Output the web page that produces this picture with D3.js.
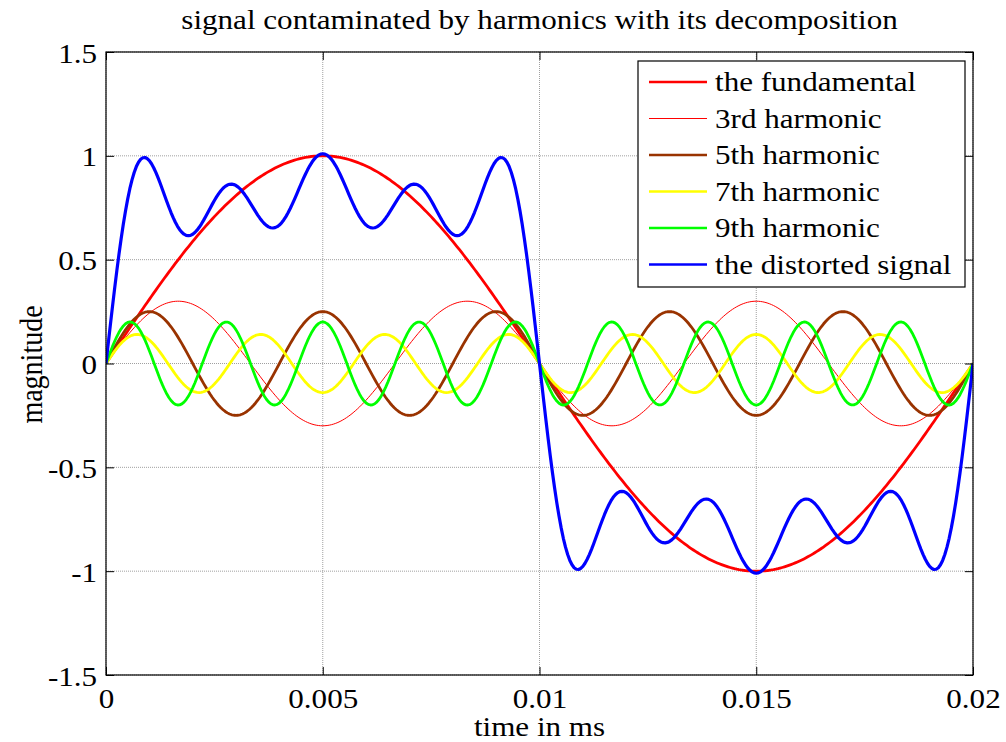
<!DOCTYPE html>
<html>
<head>
<meta charset="utf-8">
<script src="https://cdn.jsdelivr.net/npm/d3@7"></script>
<style>
  html, body { margin: 0; padding: 0; background: #fff; }
  svg { display: block; font-family: "Liberation Serif", "Times New Roman", serif; }
</style>
</head>
<body>
<svg id="chart" width="1006" height="742"></svg>
<script>
// ---- data ----
const seriesLabels = ["the fundamental", "3rd harmonic", "5th harmonic", "7th harmonic", "9th harmonic", "the distorted signal"];
const harmonicOrders = [1, 3, 5, 7, 9];
const harmonicAmplitudes = [1.0, 0.3, 0.25, 0.14, 0.2];
const fundamentalPeriod = 0.02; // seconds (x axis spans one period)
const xTicks = [0, 0.005, 0.01, 0.015, 0.02];
const xTickLabels = ["0", "0.005", "0.01", "0.015", "0.02"];
const yTicks = [-1.5, -1, -0.5, 0, 0.5, 1, 1.5];
const yTickLabels = ["-1.5", "-1", "-0.5", "0", "0.5", "1", "1.5"];
const titleText = "signal contaminated by harmonics with its decomposition";
const xLabelText = "time in ms";
const yLabelText = "magnitude";

// ---- styles ----
const colors = ["#ff0000", "#ff0000", "#993300", "#ffff00", "#00ff00", "#0000ff"];
const widths = [2.8, 1, 2.8, 2.8, 2.8, 3.2];
const FS = 28;          // font size
const SX = 1.11;        // horizontal stretch of the reference text

const svg = d3.select("#chart");
const L = 106, R = 973, T = 52, B = 675;

const x = d3.scaleLinear().domain([0, 0.02]).range([L, R]);
const y = d3.scaleLinear().domain([-1.5, 1.5]).range([B, T]);

// sample times
const nSamples = 400;
const times = d3.range(nSamples + 1).map(i => i * fundamentalPeriod / nSamples);

const series = harmonicOrders.map((h, k) =>
  times.map(t => [t, harmonicAmplitudes[k] * Math.sin(2 * Math.PI * h * t / fundamentalPeriod)]));
const distorted = times.map((t, i) => [t, d3.sum(series, s => s[i][1])]);
const allSeries = series.concat([distorted]);

// grid
const grid = svg.append("g");
grid.selectAll("line.gx").data(xTicks).join("line")
  .attr("x1", d => x(d)).attr("x2", d => x(d)).attr("y1", T).attr("y2", B)
  .attr("stroke", "#a0a0a0").attr("stroke-width", 1).attr("stroke-dasharray", "1,1");
grid.selectAll("line.gy").data(yTicks).join("line")
  .attr("y1", d => y(d)).attr("y2", d => y(d)).attr("x1", L).attr("x2", R)
  .attr("stroke", "#a0a0a0").attr("stroke-width", 1).attr("stroke-dasharray", "1,1");

// curves
const line = d3.line().x(d => x(d[0])).y(d => y(d[1]));
svg.append("clipPath").attr("id", "clip").append("rect")
  .attr("x", L).attr("y", T).attr("width", R - L).attr("height", B - T);
svg.append("g").attr("clip-path", "url(#clip)")
  .selectAll("path").data(allSeries).join("path")
  .attr("d", line).attr("fill", "none")
  .attr("stroke", (d, i) => colors[i]).attr("stroke-width", (d, i) => widths[i])
  .attr("stroke-linejoin", "round");

// axes (box with inward ticks on all sides)
const tickLen = 8;
svg.append("rect").attr("x", L).attr("y", T).attr("width", R - L).attr("height", B - T)
  .attr("fill", "none").attr("stroke", "#000").attr("stroke-width", 1.2);
const bottomAxis = d3.axisBottom(x).tickValues(xTicks).tickFormat((d, i) => xTickLabels[i]).tickSizeInner(-tickLen).tickSizeOuter(0).tickPadding(13);
const gx = svg.append("g").attr("transform", `translate(0,${B})`).call(bottomAxis);
const topAxis = d3.axisTop(x).tickValues(xTicks).tickFormat("").tickSizeInner(-tickLen).tickSizeOuter(0);
const gxt = svg.append("g").attr("transform", `translate(0,${T})`).call(topAxis);
const leftAxis = d3.axisLeft(y).tickValues(yTicks).tickFormat((d, i) => yTickLabels[i]).tickSizeInner(-tickLen).tickSizeOuter(0).tickPadding(8);
const gy = svg.append("g").attr("transform", `translate(${L},0)`).call(leftAxis);
const rightAxis = d3.axisRight(y).tickValues(yTicks).tickFormat("").tickSizeInner(-tickLen).tickSizeOuter(0);
const gyr = svg.append("g").attr("transform", `translate(${R},0)`).call(rightAxis);
[gx, gxt, gy, gyr].forEach(g => {
  g.select(".domain").remove();
  g.selectAll("line").attr("stroke", "#000");
  g.selectAll("text").attr("font-family", "'Liberation Serif', 'Times New Roman', serif")
    .attr("font-size", FS).attr("fill", "#000").attr("transform", `scale(${SX},1)`);
});
gx.selectAll("text").attr("dy", "0.71em");
gy.selectAll("text").attr("dy", "0.36em");

// title & labels
svg.append("text").attr("transform", `translate(${(L + R) / 2},29) scale(${SX},1)`).attr("text-anchor", "middle")
  .attr("font-size", FS).text(titleText);
svg.append("text").attr("transform", `translate(${(L + R) / 2},736) scale(${SX},1)`).attr("text-anchor", "middle")
  .attr("font-size", FS).text(xLabelText);
svg.append("text").attr("transform", `translate(42,${(T + B) / 2 + 1}) scale(${SX},1) rotate(-90)`).attr("text-anchor", "middle")
  .attr("font-size", FS).text(yLabelText);

// legend
const lg = svg.append("g");
const lx = 638, ly = 61, lw = 327, lh = 226;
lg.append("rect").attr("x", lx).attr("y", ly).attr("width", lw).attr("height", lh)
  .attr("fill", "#fff").attr("stroke", "#000").attr("stroke-width", 1.2);
const rowY = i => 82 + i * 36.5;
seriesLabels.forEach((lab, i) => {
  lg.append("line").attr("x1", 649).attr("x2", 707).attr("y1", rowY(i)).attr("y2", rowY(i))
    .attr("stroke", colors[i]).attr("stroke-width", widths[i] === 1 ? 1 : 2.5);
  lg.append("text").attr("transform", `translate(715,${rowY(i)}) scale(${SX},1)`).attr("dy", "0.33em")
    .attr("font-size", FS).text(lab);
});
</script>
</body>
</html>
